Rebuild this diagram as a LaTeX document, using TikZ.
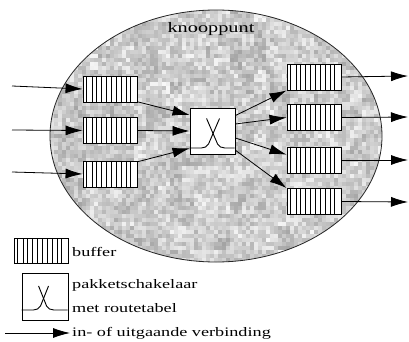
\documentclass[tikz,border=0pt]{standalone}
\usepackage{fontspec}
\usepackage{graphicx}
\setmainfont{Liberation Serif}
\usetikzlibrary{arrows.meta,calc}

% wide-set label text
\newcommand\wide[1]{\scalebox{1.4}[1]{#1}}
% vertical strokes inside a buffer node (unit square of the node)
\newcommand\bufferstrokes[3]{%
  \begin{scope}[shift={(#1.south west)},x=#2,y=#3]
    \foreach \f/\w in {0.075/0.4,0.175/0.9,0.26/0.4,0.35/0.9,0.44/0.4,0.53/0.9,0.625/0.4,0.72/0.9,0.81/0.4,0.89/0.9}
      \draw[line width=\w pt] (\f,0) -- (\f,1);
  \end{scope}}
% crossing mark of the packet switch: offsets in pt from the node's south west
% #1 node, #2 width, #3 left top x, #4 right top x, #5 top height, #6 table line height
\newcommand\routemark[6]{%
  \draw[line width=0.9pt]
    ($(#1.south west)+(#3,#5)$) -- ($(#1.south west)+(#4-2pt,#6+4pt)$)
    to[out=-60,in=180] ($(#1.south west)+(#4+5pt,#6)$) -- ($(#1.south west)+(#2,#6)$);
  \draw[line width=0.9pt]
    ($(#1.south west)+(#4,#5)$) -- ($(#1.south west)+(#3+2pt,#6+4pt)$)
    to[out=-120,in=0] ($(#1.south west)+(#3-5pt,#6)$) -- ($(#1.south west)+(0pt,#6)$);}

\tikzset{
  lbl/.style={font=\fontsize{13}{15}\selectfont, inner sep=0pt, anchor=west},
  bufferbox/.style={draw, line width=0.9pt, fill=white, minimum width=54pt,
    minimum height=26pt, inner sep=0pt},
  switchbox/.style={draw, line width=0.9pt, fill=white, minimum width=45pt,
    minimum height=46pt, inner sep=0pt},
  link/.style={line width=0.8pt, -{Latex[length=17pt,width=10pt]}},
}

\begin{document}
\begin{tikzpicture}[x=1pt,y=-1pt]
\useasboundingbox (0,0) rectangle (409,342);
\fill[white] (0,0) rectangle (409,342);

% mottled node area: fine grain plus soft darker patches
\begin{scope}
  \clip (216,136) ellipse [x radius=166, y radius=126];
  \fill[black!12] (50,10) rectangle (383,263);
  \pgfmathsetseed{42}
  \foreach \x in {50,54,...,382}{
    \foreach \y in {10,14,...,262}{
      \pgfmathsetmacro\s{2+22*rnd}
      \fill[black!\s] (\x,\y) rectangle ++(4,4);
    }
  }
  \foreach \x in {50,62,...,382}{
    \foreach \y in {10,22,...,262}{
      \pgfmathsetmacro\o{0.16*rnd}
      \fill[black, opacity=\o] (\x,\y) rectangle ++(12,12);
    }
  }
\end{scope}
\draw[line width=0.8pt, black!85] (216,136) ellipse [x radius=166, y radius=126];

\node[font=\fontsize{14.5}{16}\selectfont, inner sep=0pt] (title) at (211,29) {\wide{knooppunt}};

% input buffers
\node[bufferbox] (lb1) at (110,89) {};
\node[bufferbox] (lb2) at (110,130.5) {};
\node[bufferbox] (lb3) at (110,174) {};
% packet switch
\node[switchbox] (sw) at (212.5,131) {};
% output buffers
\node[bufferbox] (rb1) at (314,77) {};
\node[bufferbox] (rb2) at (314,117.5) {};
\node[bufferbox] (rb3) at (314,160) {};
\node[bufferbox] (rb4) at (314,201.5) {};

\foreach \n in {lb1,lb2,lb3,rb1,rb2,rb3,rb4}{\bufferstrokes{\n}{54pt}{26pt}}
\routemark{sw}{45pt}{17pt}{30pt}{36pt}{6.5pt}

% incoming links
\coordinate (in1) at (12,86);
\coordinate (in2) at (12,130);
\coordinate (in3) at (12,172);
\draw[link] (in1) -- (lb1.west);
\draw[link] (in2) -- (lb2.west);
\draw[link] (in3) -- (lb3.west);

% buffers to switch
\draw[link] (lb1.-25) -- (sw.145);
\draw[link] (lb2.east) -- (sw.180);
\draw[link] (lb3.24) -- (sw.-143);

% switch to output buffers
\draw[link] (sw.34) -- (rb1.south west);
\draw[link] (sw.17) -- (rb2.180);
\draw[link] (sw.-17) -- (rb3.169);
\draw[link] (sw.-40) -- (rb4.north west);

% outgoing links
\coordinate (out1) at (408,76);
\coordinate (out2) at (408,117);
\coordinate (out3) at (408,160);
\coordinate (out4) at (408,202);
\draw[link] (rb1.east) -- (out1);
\draw[link] (rb2.east) -- (out2);
\draw[link] (rb3.east) -- (out3);
\draw[link] (rb4.east) -- (out4);

% legend
\node[bufferbox, minimum height=25pt] (kb) at (41,250.5) {};
\bufferstrokes{kb}{54pt}{25pt}
\node[lbl] (kbt) at (72,252) {\wide{buffer}};

\node[switchbox, minimum width=46pt, minimum height=47pt] (ks) at (45,297) {};
\routemark{ks}{46pt}{17pt}{27pt}{35pt}{11pt}
\node[lbl] (kst1) at (72,285) {\wide{pakketschakelaar}};
\node[lbl] (kst2) at (72,308) {\wide{met routetabel}};

\coordinate (ka0) at (5,333);
\coordinate (ka1) at (70,333);
\draw[link] (ka0) -- (ka1);
\node[lbl] (kat) at (72,333) {\wide{in- of uitgaande verbinding}};
\end{tikzpicture}
\end{document}
